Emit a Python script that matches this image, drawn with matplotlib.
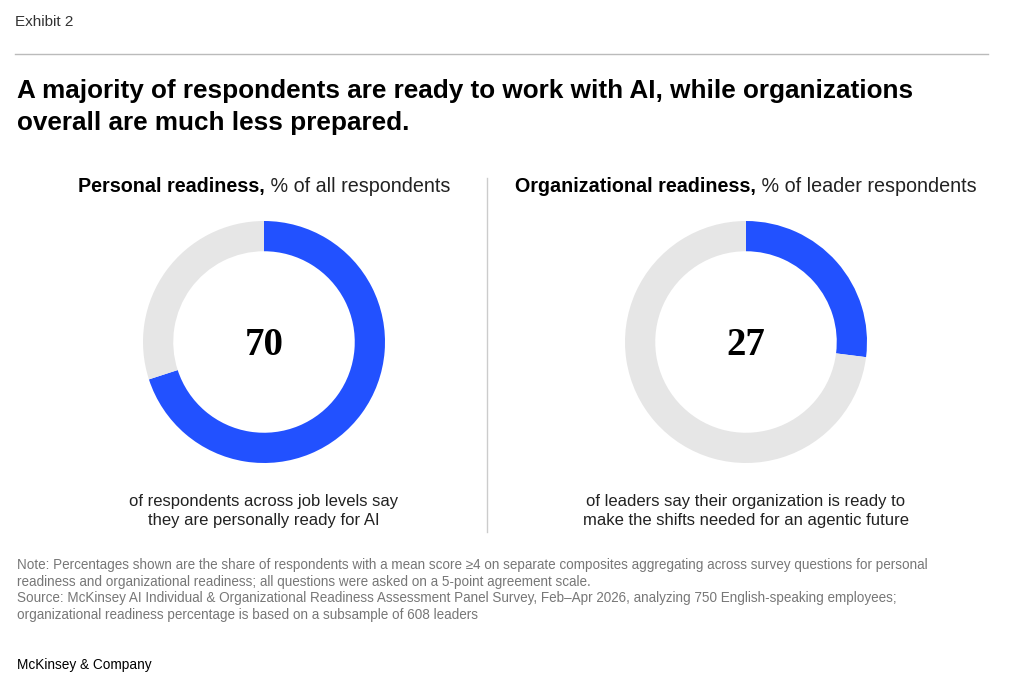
import matplotlib.pyplot as plt
from matplotlib.lines import Line2D

plt.rcParams['font.family'] = ['Liberation Sans', 'DejaVu Sans']

# Data
panels = ['Personal readiness,', 'Organizational readiness,']
panel_units = ['% of all respondents', '% of leader respondents']
ready_pct = [70, 27]
captions = ['of respondents across job levels say\nthey are personally ready for AI',
            'of leaders say their organization is ready to\nmake the shifts needed for an agentic future']

title = 'A majority of respondents are ready to work with AI, while organizations\noverall are much less prepared.'
note = ('Note: Percentages shown are the share of respondents with a mean score \u22654 on separate composites aggregating across survey questions for personal\n'
        'readiness and organizational readiness; all questions were asked on a 5-point agreement scale.\n'
        'Source: McKinsey AI Individual & Organizational Readiness Assessment Panel Survey, Feb\u2013Apr 2026, analyzing 750 English-speaking employees;\n'
        'organizational readiness percentage is based on a subsample of 608 leaders')

BLUE = '#2251FF'
GREY = '#E6E6E6'
W, H = 1012, 688

fig = plt.figure(figsize=(W / 100, H / 100), dpi=100)


def fx(px):
    return px / W


def fy(py):
    return 1 - py / H


# header
fig.text(fx(15), fy(22), 'Exhibit 2', fontsize=11, color='#333333', va='center')
fig.add_artist(Line2D([fx(15), fx(988)], [fy(54), fy(54)], color='#BBBBBB', lw=1))
fig.text(fx(17), fy(107), title, fontsize=18.8, fontweight='bold', va='center',
         linespacing=1.42, color='#000000')

# divider between panels
fig.add_artist(Line2D([fx(487), fx(487)], [fy(178), fy(532)], color='#CCCCCC', lw=1))

renderer = fig.canvas.get_renderer()
centers = [264, 746]
R = 121

for i, cx in enumerate(centers):
    # subtitle: bold part + regular part, centred together on a shared baseline
    t1 = fig.text(0, fy(192), panels[i], fontsize=14.2, fontweight='bold', va='baseline')
    t2 = fig.text(0, fy(192), ' ' + panel_units[i], fontsize=14.2, va='baseline', color='#222222')
    w1 = t1.get_window_extent(renderer).width
    w2 = t2.get_window_extent(renderer).width
    x0 = cx - (w1 + w2) / 2
    t1.set_x(fx(x0))
    t2.set_x(fx(x0 + w1))

    ax = fig.add_axes([fx(cx - R), fy(342 + R), fx(2 * R), 2 * R / H])
    ax.pie([ready_pct[i], 100 - ready_pct[i]], colors=[BLUE, GREY], startangle=90,
           counterclock=False, radius=1, wedgeprops=dict(width=0.25, linewidth=0))
    ax.set_xlim(-1, 1)
    ax.set_ylim(-1, 1)
    ax.axis('off')
    ax.text(0, -0.03, str(ready_pct[i]), ha='center', va='center', fontsize=28,
            family='Liberation Serif', fontweight='bold', color='#000000')

    fig.text(fx(cx), fy(511), captions[i], ha='center', va='center', fontsize=12,
             linespacing=1.3, color='#222222')

fig.text(fx(17), fy(590), note, fontsize=9.75, color='#777777', va='center', linespacing=1.27)
fig.text(fx(17), fy(665), 'McKinsey & Company', fontsize=9.8, color='#000000', va='center')

fig.savefig('out.png', dpi=100)
